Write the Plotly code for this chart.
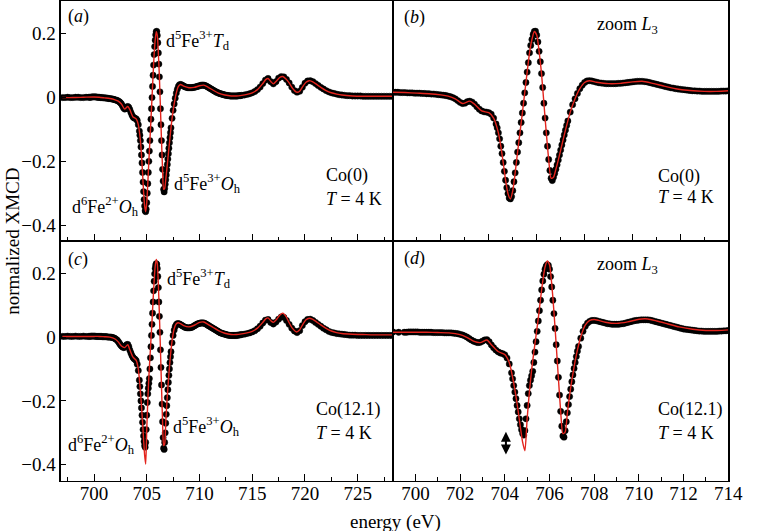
import plotly.graph_objects as go

# ---------------- data ----------------
energy_exp = [
    697.0, 697.25, 697.5, 697.75, 698.0, 698.25, 698.5, 698.75, 699.0, 699.25,
    699.5, 699.6, 699.7, 699.8, 699.9, 700.0, 700.1, 700.2, 700.3, 700.4,
    700.5, 700.6, 700.7, 700.8, 700.9, 701.0, 701.1, 701.2, 701.3, 701.4,
    701.5, 701.6, 701.7, 701.8, 701.9, 702.0, 702.1, 702.2, 702.3, 702.4,
    702.5, 702.6, 702.7, 702.8, 702.9, 703.0, 703.1, 703.2, 703.3, 703.4,
    703.5, 703.6, 703.7, 703.8, 703.9, 704.0, 704.1, 704.2, 704.3,
    704.35, 704.4, 704.45, 704.5, 704.55, 704.6, 704.65, 704.7, 704.75, 704.8,
    704.85, 704.9, 704.95, 705.0, 705.05, 705.1, 705.15, 705.2, 705.25, 705.3,
    705.35, 705.4, 705.45, 705.5, 705.55, 705.6, 705.65, 705.7, 705.75, 705.8,
    705.85, 705.9, 705.95, 706.0, 706.05, 706.1, 706.15, 706.2, 706.25, 706.3,
    706.35, 706.4, 706.45, 706.5, 706.55, 706.6, 706.65, 706.7, 706.75, 706.8,
    706.85, 706.9, 706.95, 707.0, 707.05, 707.1, 707.15, 707.2, 707.25, 707.3,
    707.4, 707.5, 707.6, 707.7, 707.8, 707.9, 708.0, 708.1, 708.2, 708.3,
    708.4, 708.5, 708.6, 708.7, 708.8, 708.9, 709.0, 709.1, 709.2, 709.3,
    709.4, 709.5, 709.6, 709.7, 709.8, 709.9, 710.0, 710.1, 710.2, 710.3,
    710.4, 710.5, 710.6, 710.7, 710.8, 710.9, 711.0, 711.1, 711.2, 711.3,
    711.4, 711.5, 711.6, 711.7, 711.8, 711.9, 712.0, 712.1, 712.2, 712.3,
    712.4, 712.5, 712.6, 712.7, 712.8, 712.9, 713.0, 713.1, 713.2, 713.3,
    713.4, 713.5, 713.6, 713.7, 713.8, 713.9, 714.0,
    714.25, 714.5, 714.75, 715.0, 715.25, 715.5, 715.75, 716.0, 716.25, 716.5,
    716.75, 717.0, 717.25, 717.5, 717.75, 718.0, 718.25, 718.5, 718.75, 719.0,
    719.25, 719.5, 719.75, 720.0, 720.25, 720.5, 720.75, 721.0, 721.25, 721.5,
    721.75, 722.0, 722.25, 722.5, 722.75, 723.0, 723.25, 723.5, 723.75, 724.0,
    724.25, 724.5, 724.75, 725.0, 725.25, 725.5, 725.75, 726.0, 726.25, 726.5,
    726.75, 727.0, 727.25, 727.5, 727.75, 728.0, 728.25,
]

xmcd_co0_exp = [
    0.0, 0.0, 0.001, 0.0, 0.0, 0.001, 0.001, 0.0, 0.0, 0.001,
    0.001, 0.001, 0.001, 0.002, 0.002, 0.002, 0.002, 0.002, 0.001, 0.001,
    0.001, 0.0, 0.0, 0.0, -0.001, -0.001, -0.001, -0.002, -0.002, -0.003,
    -0.003, -0.004, -0.004, -0.005, -0.006, -0.007, -0.008, -0.009, -0.011, -0.013,
    -0.016, -0.02, -0.026, -0.032, -0.036, -0.035, -0.03, -0.028, -0.031, -0.038,
    -0.047, -0.055, -0.061, -0.064, -0.065, -0.067, -0.072, -0.085, -0.105,
    -0.118, -0.135, -0.155, -0.18, -0.205, -0.235, -0.265, -0.295, -0.32, -0.34,
    -0.355, -0.358, -0.35, -0.33, -0.3, -0.27, -0.235, -0.2, -0.168, -0.135,
    -0.1, -0.068, -0.035, 0.0, 0.035, 0.07, 0.102, 0.135, 0.16, 0.18,
    0.197, 0.207, 0.208, 0.195, 0.172, 0.14, 0.105, 0.065, 0.018, -0.035,
    -0.085, -0.135, -0.18, -0.225, -0.262, -0.288, -0.296, -0.285, -0.272, -0.258,
    -0.243, -0.227, -0.21, -0.193, -0.176, -0.159, -0.142, -0.126, -0.11, -0.095,
    -0.065, -0.04, -0.02, -0.002, 0.014, 0.026, 0.035, 0.04, 0.041, 0.04,
    0.038, 0.036, 0.034, 0.033, 0.032, 0.031, 0.031, 0.031, 0.031, 0.031,
    0.032, 0.032, 0.033, 0.034, 0.035, 0.036, 0.037, 0.038, 0.039, 0.039,
    0.039, 0.038, 0.037, 0.035, 0.033, 0.031, 0.029, 0.027, 0.025, 0.023,
    0.021, 0.019, 0.017, 0.016, 0.014, 0.013, 0.012, 0.011, 0.01, 0.009,
    0.008, 0.007, 0.007, 0.006, 0.006, 0.005, 0.005, 0.005, 0.005, 0.005,
    0.005, 0.005, 0.005, 0.006, 0.006, 0.006, 0.007,
    0.008, 0.01, 0.012, 0.015, 0.019, 0.025, 0.033, 0.044, 0.055, 0.06,
    0.05, 0.043, 0.05, 0.061, 0.066, 0.065, 0.057, 0.046, 0.033, 0.022,
    0.017, 0.02, 0.032, 0.045, 0.052, 0.053, 0.05, 0.044, 0.038, 0.032,
    0.027, 0.022, 0.018, 0.015, 0.013, 0.011, 0.009, 0.008, 0.007, 0.006,
    0.006, 0.005, 0.005, 0.005, 0.005, 0.004, 0.004, 0.004, 0.004, 0.004,
    0.004, 0.004, 0.004, 0.004, 0.004, 0.004, 0.004,
]

xmcd_co12_exp = [
    0.002, 0.002, 0.003, 0.002, 0.002, 0.003, 0.002, 0.002, 0.003, 0.002,
    0.002, 0.002, 0.003, 0.003, 0.003, 0.003, 0.003, 0.002, 0.002, 0.002,
    0.002, 0.002, 0.002, 0.001, 0.001, 0.001, 0.001, 0.001, 0.0, 0.0,
    0.0, 0.0, -0.001, -0.002, -0.003, -0.005, -0.007, -0.01, -0.014, -0.019,
    -0.024, -0.028, -0.031, -0.033, -0.032, -0.028, -0.024, -0.023, -0.03, -0.041,
    -0.05, -0.058, -0.064, -0.068, -0.07, -0.074, -0.085, -0.105, -0.135,
    -0.155, -0.178, -0.2, -0.222, -0.245, -0.267, -0.29, -0.31, -0.327, -0.34,
    -0.345, -0.33, -0.29, -0.245, -0.205, -0.178, -0.16, -0.145, -0.13, -0.1,
    -0.065, -0.03, 0.005, 0.04, 0.075, 0.11, 0.145, 0.175, 0.198, 0.215,
    0.225, 0.23, 0.228, 0.215, 0.19, 0.155, 0.11, 0.065, 0.015, -0.04,
    -0.095, -0.15, -0.21, -0.265, -0.315, -0.348, -0.352, -0.33, -0.3, -0.27,
    -0.242, -0.215, -0.19, -0.165, -0.142, -0.12, -0.1, -0.08, -0.062, -0.046,
    -0.018, 0.005, 0.022, 0.033, 0.039, 0.042, 0.042, 0.041, 0.039, 0.037,
    0.035, 0.033, 0.031, 0.03, 0.029, 0.029, 0.029, 0.029, 0.03, 0.031,
    0.033, 0.035, 0.037, 0.039, 0.041, 0.042, 0.043, 0.044, 0.044, 0.044,
    0.044, 0.043, 0.041, 0.039, 0.037, 0.035, 0.033, 0.031, 0.029, 0.027,
    0.025, 0.023, 0.021, 0.019, 0.017, 0.015, 0.013, 0.012, 0.011, 0.01,
    0.009, 0.008, 0.007, 0.006, 0.006, 0.005, 0.005, 0.005, 0.005, 0.005,
    0.005, 0.005, 0.006, 0.006, 0.007, 0.007, 0.008,
    0.009, 0.011, 0.013, 0.016, 0.02, 0.026, 0.034, 0.044, 0.053, 0.055,
    0.046, 0.041, 0.047, 0.056, 0.063, 0.062, 0.052, 0.04, 0.028, 0.019,
    0.014, 0.02, 0.036, 0.048, 0.055, 0.056, 0.052, 0.046, 0.04, 0.034,
    0.028, 0.023, 0.018, 0.015, 0.013, 0.011, 0.01, 0.009, 0.008, 0.007,
    0.006, 0.006, 0.006, 0.005, 0.005, 0.005, 0.005, 0.005, 0.005, 0.005,
    0.005, 0.005, 0.005, 0.005, 0.005, 0.005, 0.005,
]

energy_fit = [
    697.0, 698.0, 699.0, 700.0, 700.5, 701.0, 701.5, 702.0, 702.3, 702.6,
    702.9, 703.2, 703.4, 703.7, 704.0, 704.2, 704.4, 704.5, 704.6, 704.7,
    704.8, 704.9, 705.0, 705.1, 705.2, 705.3, 705.4, 705.5, 705.6, 705.7,
    705.8, 705.9, 706.0, 706.1, 706.2, 706.3, 706.4, 706.5, 706.6, 706.7,
    706.8, 706.9, 707.0, 707.2, 707.4, 707.6, 707.8, 708.0, 708.2, 708.5,
    709.0, 709.5, 710.0, 710.4, 710.8, 711.3, 711.8, 712.4, 713.0, 713.5,
    714.0, 714.5, 715.0, 715.5, 716.0, 716.3, 716.5, 716.8, 717.0, 717.3,
    717.6, 717.9, 718.2, 718.5, 718.8, 719.2, 719.5, 719.8, 720.1, 720.4,
    720.7, 721.0, 721.5, 722.0, 722.5, 723.0, 723.5, 724.5, 725.5, 726.5,
    727.5, 728.5,
]

xmcd_co0_fit = [
    0.0, 0.0, 0.001, 0.002, 0.001, -0.001, -0.003, -0.007, -0.011, -0.02,
    -0.036, -0.028, -0.038, -0.061, -0.067, -0.085, -0.135, -0.18, -0.235, -0.295,
    -0.34, -0.358, -0.33, -0.27, -0.2, -0.135, -0.068, 0.0, 0.07, 0.135,
    0.18, 0.207, 0.195, 0.14, 0.065, -0.035, -0.135, -0.225, -0.288, -0.285,
    -0.258, -0.227, -0.193, -0.126, -0.065, -0.02, 0.014, 0.035, 0.041, 0.036,
    0.031, 0.032, 0.037, 0.039, 0.033, 0.023, 0.014, 0.008, 0.005, 0.005,
    0.007, 0.01, 0.015, 0.025, 0.044, 0.057, 0.06, 0.049, 0.043, 0.052,
    0.063, 0.066, 0.058, 0.046, 0.03, 0.017, 0.02, 0.035, 0.048, 0.053,
    0.05, 0.044, 0.032, 0.022, 0.015, 0.011, 0.008, 0.005, 0.004, 0.004,
    0.004, 0.004,
]

xmcd_co12_fit = [
    0.002, 0.002, 0.002, 0.002, 0.002, 0.001, 0.0, -0.006, -0.015, -0.028,
    -0.033, -0.024, -0.04, -0.063, -0.073, -0.1, -0.17, -0.215, -0.265, -0.32,
    -0.37, -0.398, -0.29, -0.2, -0.125, -0.065, -0.008, 0.05, 0.115, 0.175,
    0.222, 0.243, 0.23, 0.165, 0.07, -0.04, -0.155, -0.265, -0.34, -0.335,
    -0.27, -0.21, -0.16, -0.075, -0.013, 0.026, 0.042, 0.045, 0.042, 0.036,
    0.032, 0.037, 0.046, 0.047, 0.04, 0.03, 0.02, 0.012, 0.008, 0.008,
    0.01, 0.013, 0.018, 0.028, 0.046, 0.058, 0.06, 0.05, 0.046, 0.055,
    0.068, 0.075, 0.065, 0.045, 0.028, 0.016, 0.023, 0.04, 0.054, 0.059,
    0.056, 0.05, 0.038, 0.027, 0.019, 0.014, 0.011, 0.009, 0.008, 0.007,
    0.007, 0.007,
]

x_ticks_wide = [700, 705, 710, 715, 720, 725]
x_ticks_zoom = [700, 702, 704, 706, 708, 710, 712, 714]
y_ticks = [-0.4, -0.2, 0, 0.2]
y_ticktext = ["\u22120.4", "\u22120.2", "0", "0.2"]

sample_labels = ["Co(0)", "Co(12.1)"]

# ---------------- figure ----------------
W, H = 757, 531
FONT = "Liberation Serif"
FS = 18

def px_x(p):
    return p / W

def px_y(p):
    return 1 - p / H

XL = [px_x(62), px_x(401)]
XR = [px_x(401), px_x(743)]
YT = [px_y(241), px_y(1)]
YB = [px_y(481), px_y(241)]

fig = go.Figure()

def n_ok(a, b):
    return min(len(a), len(b))

panels = [
    ("x", "y", xmcd_co0_exp, xmcd_co0_fit),
    ("x2", "y2", xmcd_co0_exp, xmcd_co0_fit),
    ("x3", "y3", xmcd_co12_exp, xmcd_co12_fit),
    ("x4", "y4", xmcd_co12_exp, xmcd_co12_fit),
]
for xa, ya, ex, ft in panels:
    n = n_ok(energy_exp, ex)
    fig.add_trace(go.Scatter(
        x=energy_exp[:n], y=ex[:n], mode="markers", xaxis=xa, yaxis=ya,
        marker=dict(size=6.3, color="black", opacity=1,
                    line=dict(width=0.4, color="black")),
        showlegend=False, hoverinfo="skip"))
    m = n_ok(energy_fit, ft)
    fig.add_trace(go.Scatter(
        x=energy_fit[:m], y=ft[:m], mode="lines", xaxis=xa, yaxis=ya,
        line=dict(color="#e3241d", width=1.4, shape="spline", smoothing=0.6),
        showlegend=False, hoverinfo="skip"))

axis_common = dict(showline=True, mirror=True, linecolor="black", linewidth=1.3,
                   showgrid=False, zeroline=False,
                   tickfont=dict(family=FONT, size=19, color="black"))

fig.update_layout(
    width=W, height=H,
    margin=dict(l=0, r=0, t=0, b=0),
    paper_bgcolor="white", plot_bgcolor="white",
    showlegend=False,
    font=dict(family=FONT, color="black"),
    xaxis=dict(domain=XL, anchor="y", range=[696.85, 728.35], ticks="inside",
               tickvals=x_ticks_wide, ticklen=7, tickcolor="black",
               showticklabels=False,
               minor=dict(dtick=2.5, tick0=700, ticks="inside", ticklen=4, tickcolor="black"),
               **axis_common),
    yaxis=dict(domain=YT, anchor="x", range=[-0.45, 0.303], ticks="inside",
               tickvals=y_ticks, ticktext=y_ticktext, ticklen=5, tickcolor="black",
               **axis_common),
    xaxis2=dict(domain=XR, anchor="y2", range=[700, 714], ticks="inside",
                tickvals=x_ticks_zoom, ticklen=7, tickcolor="black",
                showticklabels=False,
                minor=dict(dtick=1, tick0=700, ticks="inside", ticklen=4, tickcolor="black"),
                **axis_common),
    yaxis2=dict(domain=YT, anchor="x2", range=[-0.5, 0.31], ticks="",
                showticklabels=False, **axis_common),
    xaxis3=dict(domain=XL, anchor="y3", range=[696.85, 728.35], ticks="inside",
                tickvals=x_ticks_wide, ticklen=7, tickcolor="black",
                ticklabelstandoff=-5,
                minor=dict(dtick=2.5, tick0=700, ticks="inside", ticklen=4, tickcolor="black"),
                **axis_common),
    yaxis3=dict(domain=YB, anchor="x3", range=[-0.451, 0.301], ticks="inside",
                tickvals=y_ticks, ticktext=y_ticktext, ticklen=5, tickcolor="black",
                **axis_common),
    xaxis4=dict(domain=XR, anchor="y4", range=[699, 714], ticks="inside",
                tickvals=x_ticks_zoom, ticklen=7, tickcolor="black",
                ticklabelstandoff=-5, ticklabeloverflow="allow",
                minor=dict(dtick=1, tick0=699, ticks="inside", ticklen=4, tickcolor="black"),
                **axis_common),
    yaxis4=dict(domain=YB, anchor="x4", range=[-0.5, 0.31], ticks="",
                showticklabels=False, **axis_common),
)

def txt(text, xref, yref, x, y, xanchor="left", yanchor="middle", size=FS):
    fig.add_annotation(text=text, xref=xref, yref=yref, x=x, y=y,
                       xanchor=xanchor, yanchor=yanchor, showarrow=False,
                       font=dict(family=FONT, size=size, color="black"))

TD = "d<sup>5</sup>Fe<sup>3+</sup><i>T</i><sub>d</sub>"
OH3 = "d<sup>5</sup>Fe<sup>3+</sup><i>O</i><sub>h</sub>"
OH2 = "d<sup>6</sup>Fe<sup>2+</sup><i>O</i><sub>h</sub>"
TEMP = "<i>T</i> = 4 K"
ZOOM = "zoom <i>L</i><sub>3</sub>"

# panel (a)
txt("(<i>a</i>)", "x domain", "y domain", 0.016, 0.937)
txt(TD, "x domain", "y domain", 0.31, 0.835)
txt(OH3, "x domain", "y domain", 0.336, 0.238)
txt(OH2, "x domain", "y domain", 0.242, 0.145, xanchor="right")
txt(sample_labels[0], "x domain", "y domain", 0.793, 0.275)
txt(TEMP, "x domain", "y domain", 0.793, 0.175)
# panel (b)
txt("(<i>b</i>)", "x2 domain", "y2 domain", 0.027, 0.933)
txt(ZOOM, "x2 domain", "y2 domain", 0.603, 0.9)
txt(sample_labels[0], "x2 domain", "y2 domain", 0.784, 0.267)
txt(TEMP, "x2 domain", "y2 domain", 0.784, 0.183)
# panel (c)
txt("(<i>c</i>)", "x3 domain", "y3 domain", 0.016, 0.921)
txt(TD, "x3 domain", "y3 domain", 0.313, 0.845)
txt(OH3, "x3 domain", "y3 domain", 0.333, 0.228)
txt(OH2, "x3 domain", "y3 domain", 0.23, 0.153, xanchor="right")
txt(sample_labels[1], "x3 domain", "y3 domain", 0.761, 0.296)
txt(TEMP, "x3 domain", "y3 domain", 0.761, 0.2)
# panel (d)
txt("(<i>d</i>)", "x4 domain", "y4 domain", 0.027, 0.929)
txt(ZOOM, "x4 domain", "y4 domain", 0.603, 0.9)
txt(sample_labels[1], "x4 domain", "y4 domain", 0.784, 0.296)
txt(TEMP, "x4 domain", "y4 domain", 0.784, 0.2)

# double arrow in (d)
fig.add_annotation(x=704.05, y=-0.334, ax=704.05, ay=-0.416,
                   xref="x4", yref="y4", axref="x4", ayref="y4",
                   text="", showarrow=True, arrowside="end+start",
                   arrowhead=2, arrowsize=1, arrowwidth=2, arrowcolor="black")

# axis titles
txt("energy (eV)", "paper", "paper", px_x(403), px_y(522), xanchor="center", size=19)
fig.add_annotation(text="normalized XMCD", xref="paper", yref="paper",
                   x=px_x(12), y=px_y(241), xanchor="center", yanchor="middle",
                   textangle=-90, showarrow=False,
                   font=dict(family=FONT, size=19, color="black"))

fig.write_html("out.html",
               config={"displayModeBar": False, "staticPlot": True},
               post_script="document.body.style.margin='0';document.body.style.overflow='hidden';")
